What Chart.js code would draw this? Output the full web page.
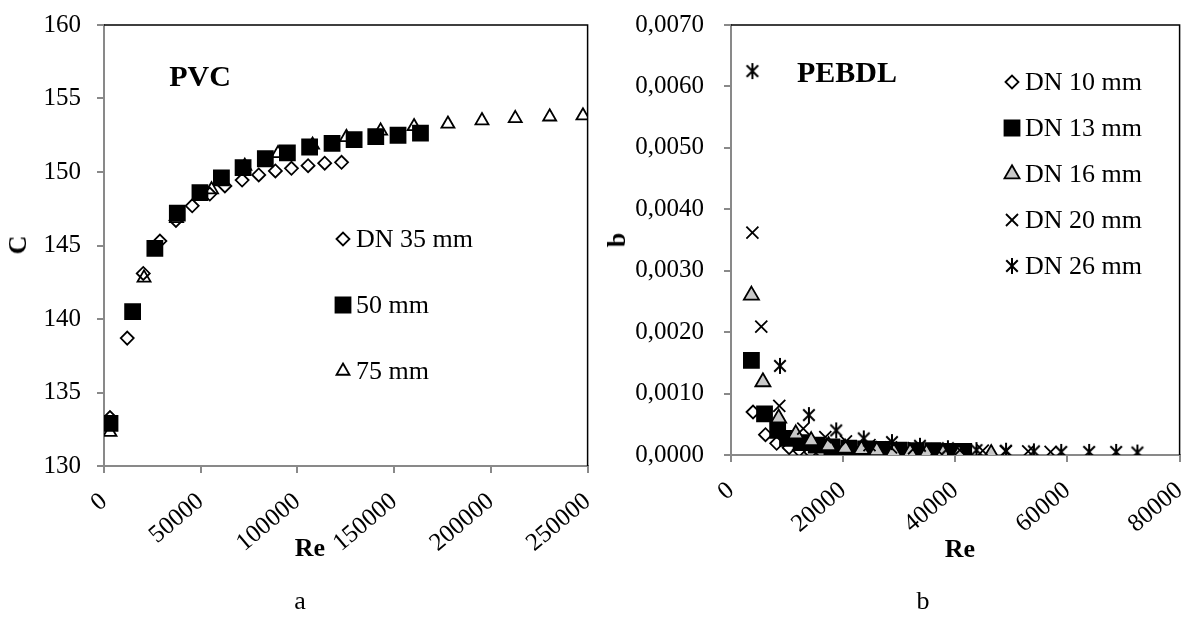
<!DOCTYPE html>
<html>
<head>
<meta charset="utf-8">
<script src="https://cdn.jsdelivr.net/npm/chart.js@4.4.1/dist/chart.umd.min.js"></script>
<style>
html, body { margin: 0; padding: 0; background: #fff; }
#page { position: relative; width: 1192px; height: 619px; overflow: hidden; font-family: "Liberation Serif", "Times New Roman", serif; color: #000; }
.box { position: absolute; top: 0; }
.lbl { position: absolute; white-space: nowrap; line-height: 1; transform: translate(-50%, -50%); }
.bold { font-weight: bold; }
</style>
</head>
<body>
<div id="page">
  <canvas id="chartPVC" class="box" style="left:0" width="600" height="619"></canvas>
  <canvas id="chartPE" class="box" style="left:600px" width="592" height="619"></canvas>

  <div class="lbl bold" style="left:18px;top:245px;font-size:26px;transform:translate(-50%,-50%) rotate(-90deg)">C</div>
  <div class="lbl bold" style="left:310px;top:548px;font-size:26px">Re</div>
  <div class="lbl" style="left:300px;top:601px;font-size:26px">a</div>

  <div class="lbl bold" style="left:617px;top:240px;font-size:26px;transform:translate(-50%,-50%) rotate(-90deg)">b</div>
  <div class="lbl bold" style="left:960px;top:549px;font-size:26px">Re</div>
  <div class="lbl" style="left:923px;top:601px;font-size:26px">b</div>
</div>
<script>
const FONT = '"Liberation Serif", "Times New Roman", serif';
Chart.defaults.font.family = FONT;
Chart.defaults.font.size = 25;
Chart.defaults.color = '#000';

// ---- a) PVC : Hazen-Williams C vs Re ----
const pvcNames = ['DN 35 mm', '50 mm', '75 mm'];
const pvcRe35 = [3100, 12000, 20300, 28900, 37200, 45600, 54700, 62500, 71400, 80000, 88600, 96900, 105500, 114100, 122800];
const pvcC35  = [133.3, 138.7, 143.1, 145.3, 146.7, 147.7, 148.5, 149.05, 149.45, 149.8, 150.07, 150.25, 150.43, 150.6, 150.66];
const pvcRe50 = [3100, 14800, 26300, 37900, 49600, 60700, 71900, 83400, 94800, 106300, 117900, 129300, 140500, 152000, 163600];
const pvcC50  = [132.9, 140.5, 144.8, 147.2, 148.6, 149.6, 150.3, 150.9, 151.3, 151.7, 151.95, 152.2, 152.4, 152.5, 152.65];
const pvcRe75 = [3100, 20700, 37500, 55600, 72800, 90000, 107800, 125300, 143000, 160300, 177800, 195400, 212600, 230400, 247600];
const pvcC75  = [132.3, 142.8, 146.85, 148.8, 150.4, 151.27, 151.84, 152.36, 152.8, 153.1, 153.27, 153.5, 153.65, 153.76, 153.83];
const pvcXTicks = [0, 250000, 50000];
const pvcYTicks = [130, 160, 5];

// ---- b) PEBDL : coefficient b vs Re ----
const peNames = ['DN 10 mm', 'DN 13 mm', 'DN 16 mm', 'DN 20 mm', 'DN 26 mm'];
const peRe10 = [3930, 6150, 8140, 10370, 12150, 14200, 16200, 18300, 20400, 22500, 24600, 26700, 28800, 30900, 33000];
const peB10  = [0.00070, 0.00033, 0.00019, 0.00012, 0.00008, 0.00005, 0.00004, 0.00003, 0.00002, 0.00002, 0.00002, 0.00001, 0.00001, 0.00001, 0.00001];
const peRe13 = [3640, 5980, 8320, 10080, 12500, 15200, 18000, 21000, 24000, 27000, 30000, 33000, 36000, 39000, 41500];
const peB13  = [0.00154, 0.00067, 0.00040, 0.00027, 0.00020, 0.00016, 0.00013, 0.00011, 0.00010, 0.00009, 0.00008, 0.00007, 0.00007, 0.00006, 0.00006];
const peRe16 = [3640, 5690, 8500, 11550, 14300, 17400, 20340, 23260, 26000, 29000, 31940, 34860, 37800, 40660, 46400];
const peB16  = [0.00260, 0.00119, 0.00060, 0.00034, 0.00023, 0.00015, 0.00011, 0.00009, 0.00007, 0.000055, 0.00004, 0.00003, 0.00003, 0.00002, 0.00002];
const peRe20 = [3815, 5400, 8610, 12890, 16820, 20500, 24700, 28540, 32650, 36700, 40800, 44900, 49000, 53000, 57000];
const peB20  = [0.00362, 0.00209, 0.00080, 0.00043, 0.00029, 0.00022, 0.00016, 0.000125, 0.00011, 0.00009, 0.00008, 0.00007, 0.00006, 0.00006, 0.00005];
const peRe26 = [3815, 8737, 13890, 18760, 23680, 28710, 33700, 38680, 43770, 49050, 54020, 58890, 63870, 68690, 72480];
const peB26  = [0.00625, 0.00145, 0.00065, 0.00040, 0.00027, 0.00021, 0.00015, 0.00011, 0.00008, 0.00007, 0.00006, 0.00005, 0.00005, 0.00005, 0.00004];
const peXTicks = [0, 80000, 20000];
const peYTicks = [0, 0.007, 0.001];

function pts(xs, ys) { return xs.map((x, i) => ({ x: x, y: ys[i] })); }

// excel-like asterisk marker (x with a vertical bar)
function asterisk(size) {
  const c = document.createElement('canvas');
  c.width = c.height = size;
  const g = c.getContext('2d');
  const m = size / 2, r = size / 2 - 1, d = r * 0.72;
  g.strokeStyle = '#000';
  g.lineWidth = 2;
  g.beginPath();
  g.moveTo(m, m - r); g.lineTo(m, m + r);
  g.moveTo(m - d, m - d); g.lineTo(m + d, m + d);
  g.moveTo(m + d, m - d); g.lineTo(m - d, m + d);
  g.stroke();
  return c;
}

function marker(style, r, fill, order) {
  return { pointStyle: style, pointRadius: r, pointHoverRadius: r, pointBackgroundColor: fill,
           pointBorderColor: '#000', pointBorderWidth: 1.8, showLine: false, order: order };
}

// legend + title + top/right frame drawn inside the plot
const plotExtras = {
  id: 'plotExtras',
  afterDraw(chart, args, o) {
    const ctx = chart.ctx, a = chart.chartArea;
    ctx.save();
    ctx.strokeStyle = '#000';
    ctx.lineWidth = 1.5;
    ctx.beginPath();
    ctx.moveTo(a.left, a.top); ctx.lineTo(a.right, a.top); ctx.lineTo(a.right, a.bottom);
    ctx.stroke();

    ctx.fillStyle = '#000';
    ctx.font = 'bold 30px ' + FONT;
    ctx.textAlign = 'center';
    ctx.textBaseline = 'middle';
    ctx.fillText(o.title, o.titleX, o.titleY);

    ctx.font = '26px ' + FONT;
    ctx.textAlign = 'left';
    chart.data.datasets.forEach((ds, i) => {
      const y = o.legY + i * o.legDy;
      ctx.fillStyle = ds.pointBackgroundColor;
      ctx.strokeStyle = '#000';
      ctx.lineWidth = ds.pointBorderWidth;
      Chart.helpers.drawPoint(ctx, { pointStyle: ds.pointStyle, radius: ds.pointRadius, borderWidth: ds.pointBorderWidth, rotation: 0 }, o.legX, y);
      ctx.fillStyle = '#000';
      ctx.fillText(ds.label, o.legX + 13, y + 1);
    });
    ctx.restore();
  }
};

function axisCommon(ticks, fmt) {
  return {
    type: 'linear', min: ticks[0], max: ticks[1],
    ticks: { stepSize: ticks[2], callback: fmt, color: '#000' },
    grid: { drawOnChartArea: false, drawTicks: true, tickLength: 7, color: '#898989', lineWidth: 2 },
    border: { color: '#898989', width: 2 }
  };
}

function makeChart(id, datasets, xT, yT, xH, yW, yPad, yFmt, padRight, extras) {
  const x = axisCommon(xT, v => String(v));
  x.ticks.minRotation = 40; x.ticks.maxRotation = 40; x.ticks.autoSkip = false; x.ticks.padding = 14;
  x.afterFit = s => { s.height = xH; s.paddingLeft = 0; s.paddingRight = 0; };
  const y = axisCommon(yT, yFmt);
  y.ticks.padding = yPad;
  y.afterFit = s => { s.width = yW; s.paddingTop = 0; s.paddingBottom = 0; };
  return new Chart(document.getElementById(id), {
    type: 'scatter',
    data: { datasets: datasets },
    options: {
      responsive: false, animation: false,
      layout: { padding: { top: 25, right: padRight, bottom: 0, left: 0 } },
      scales: { x: x, y: y },
      plugins: { legend: { display: false }, tooltip: { enabled: false }, plotExtras: extras }
    },
    plugins: [plotExtras]
  });
}

makeChart('chartPVC', [
  Object.assign({ label: pvcNames[0], data: pts(pvcRe35, pvcC35) }, marker('rectRot', 6.5, 'rgba(0,0,0,0)', 3)),
  Object.assign({ label: pvcNames[1], data: pts(pvcRe50, pvcC50) }, marker('rect', 10.6, '#000', 2)),
  Object.assign({ label: pvcNames[2], data: pts(pvcRe75, pvcC75) }, marker('triangle', 7.5, 'rgba(0,0,0,0)', 1))
], pvcXTicks, pvcYTicks, 153, 104, 16, v => String(v), 12,
  { title: 'PVC', titleX: 200, titleY: 78, legX: 343, legY: 239, legDy: 66 });

makeChart('chartPE', [
  Object.assign({ label: peNames[0], data: pts(peRe10, peB10) }, marker('rectRot', 6.5, 'rgba(0,0,0,0)', 5)),
  Object.assign({ label: peNames[1], data: pts(peRe13, peB13) }, marker('rect', 10.6, '#000', 4)),
  Object.assign({ label: peNames[2], data: pts(peRe16, peB16) }, marker('triangle', 8.7, '#c8c8c8', 3)),
  Object.assign({ label: peNames[3], data: pts(peRe20, peB20) }, marker('crossRot', 8.5, '#000', 2)),
  Object.assign({ label: peNames[4], data: pts(peRe26, peB26) }, marker(asterisk(18), 9, '#000', 1))
], peXTicks, peYTicks, 164, 131, 20, v => v.toFixed(4).replace('.', ','), 6,
  { title: 'PEBDL', titleX: 247, titleY: 74, legX: 412, legY: 82, legDy: 46 });
</script>
</body>
</html>
